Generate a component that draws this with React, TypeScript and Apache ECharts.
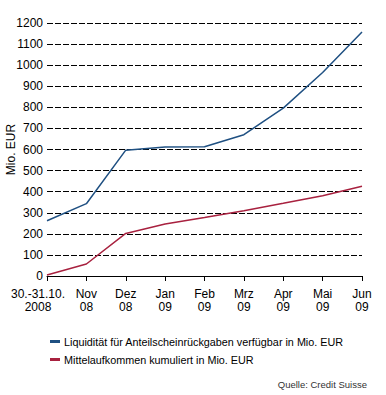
import React, { useEffect, useRef } from "react";
import * as echarts from "echarts";

const categories = ["30.-31.10.\n2008", "Nov\n08", "Dez\n08", "Jan\n09", "Feb\n09", "Mrz\n09", "Apr\n09", "Mai\n09", "Jun\n09"];
const liquiditaet = [262, 343, 597, 612, 613, 670, 796, 965, 1157];
const mittelaufkommen = [5, 57, 202, 247, 278, 310, 345, 381, 426];
const seriesNames = [
  "Liquidität für Anteilscheinrückgaben verfügbar in Mio. EUR",
  "Mittelaufkommen kumuliert in Mio. EUR",
];
const yAxisTitle = "Mio. EUR";
const sourceText = "Quelle: Credit Suisse";

const FONT = "Liberation Sans, Arial, Helvetica, sans-serif";
const BLUE = "#1f5082";
const RED = "#a8213f";

export default function App() {
  const ref = useRef<HTMLDivElement>(null);
  useEffect(() => {
    if (!ref.current) return;
    const chart = echarts.init(ref.current, undefined, { renderer: "svg" });
    chart.setOption({
      animation: false,
      backgroundColor: "#ffffff",
      textStyle: { fontFamily: FONT },
      grid: { left: 47, right: 24, top: 23, bottom: 119, containLabel: false, outerBoundsMode: "none" },
      legend: {
        orient: "vertical",
        left: 45,
        top: 331,
        itemGap: 7,
        itemWidth: 10,
        itemHeight: 3,
        icon: "rect",
        textStyle: { fontFamily: FONT, fontSize: 10.8, color: "#000", padding: [0, 0, 0, -1] },
        data: seriesNames,
      },
      xAxis: {
        type: "category",
        data: categories,
        boundaryGap: false,
        axisLine: { show: true, lineStyle: { color: "#000", width: 1 } },
        axisTick: { show: true, length: 5, lineStyle: { color: "#000" } },
        axisLabel: {
          color: "#000",
          fontSize: 12,
          fontFamily: FONT,
          lineHeight: 13,
          margin: 11,
          interval: 0,
          formatter: (v: string, i: number) =>
            i === 0 ? v.split("\n").map((s) => `{first|${s}}`).join("\n") : v,
          rich: {
            first: { fontSize: 12, fontFamily: FONT, color: "#000", lineHeight: 13, padding: [0, 18, 0, 0] },
          },
        },
        splitLine: { show: false },
      },
      yAxis: {
        type: "value",
        min: 0,
        max: 1200,
        interval: 100,
        name: yAxisTitle,
        nameLocation: "middle",
        nameRotate: 90,
        nameGap: 30,
        nameMoveOverlap: false,
        nameTextStyle: { color: "#000", fontSize: 12, fontFamily: FONT },
        axisLine: { show: false },
        axisTick: { show: false },
        axisLabel: { color: "#000", fontSize: 12, fontFamily: FONT, margin: 4, formatter: (v: number) => String(v) },
        splitLine: { show: true, lineStyle: { color: "#000", type: [6, 2], width: 1 } },
      },
      graphic: [
        {
          type: "text",
          right: 19,
          top: 379,
          style: { text: sourceText, fill: "#333", font: `9.5px ${FONT}` },
        },
      ],
      series: [
        {
          name: seriesNames[0],
          type: "line",
          data: liquiditaet,
          symbol: "none",
          lineStyle: { color: BLUE, width: 1.5 },
          itemStyle: { color: BLUE },
        },
        {
          name: seriesNames[1],
          type: "line",
          data: mittelaufkommen,
          symbol: "none",
          lineStyle: { color: RED, width: 1.5 },
          itemStyle: { color: RED },
        },
      ],
    });
    return () => chart.dispose();
  }, []);
  return <div ref={ref} style={{ width: 386, height: 395, position: "absolute", left: 0, top: 0 }} />;
}
